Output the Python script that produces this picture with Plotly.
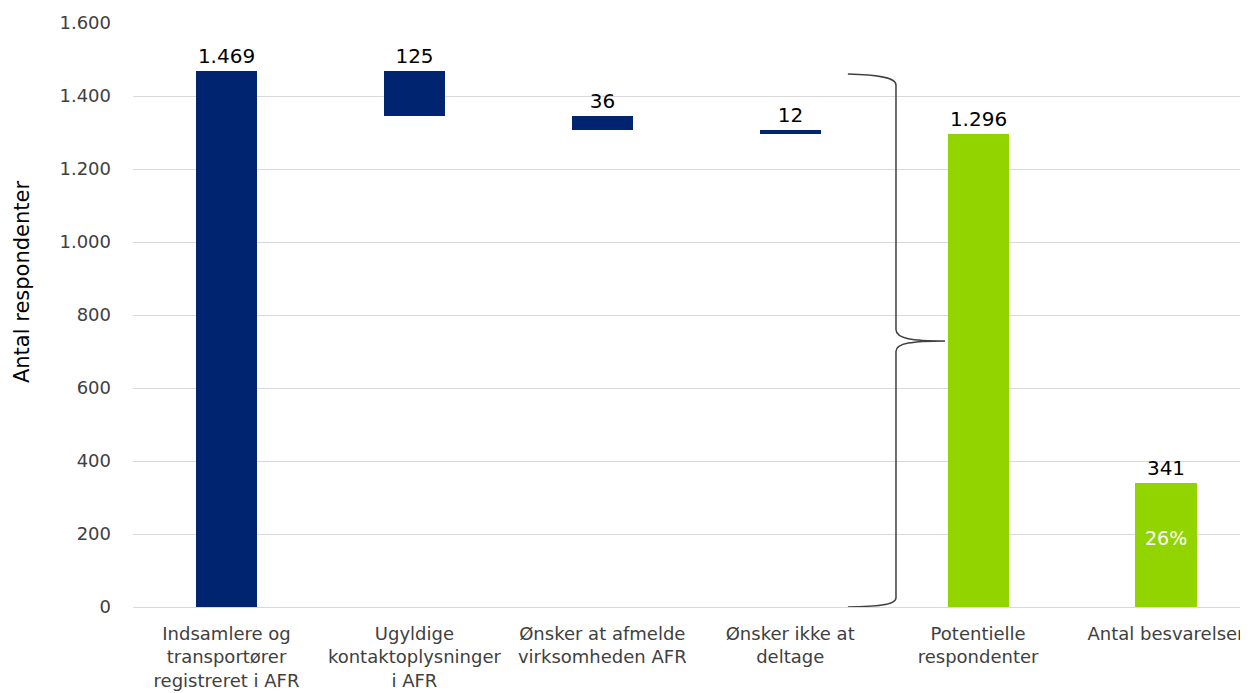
import plotly.graph_objects as go

categories = ["Indsamlere og<br>transportører<br>registreret i AFR",
              "Ugyldige<br>kontaktoplysninger<br>i AFR",
              "Ønsker at afmelde<br>virksomheden AFR",
              "Ønsker ikke at<br>deltage",
              "Potentielle<br>respondenter",
              "Antal besvarelser"]
values = [1469, 125, 36, 12, 1296, 341]
kinds = ["total", "drop", "drop", "drop", "total", "total"]
colors = ["#00246F", "#00246F", "#00246F", "#00246F", "#92D400", "#92D400"]
share_label = "26%"
share_y = 190
y_ticks = [0, 200, 400, 600, 800, 1000, 1200, 1400, 1600]
y_title = "Antal respondenter"

# compute floating bases (waterfall)
bases = []
level = 0
for v, k in zip(values, kinds):
    if k == "total":
        bases.append(0)
        level = v
    else:
        level -= v
        bases.append(level)

xs = list(range(len(categories)))
font_family = "DejaVu Sans, sans-serif"

fig = go.Figure()
fig.add_trace(go.Bar(
    x=xs, y=values, base=bases,
    marker=dict(color=colors, line=dict(width=0)),
    width=0.325,
    text=[f"{v:,}".replace(",", ".") for v in values],
    textposition="outside",
    textfont=dict(size=20, color="#000000", family=font_family),
    cliponaxis=False,
    hoverinfo="skip",
))

fig.add_annotation(x=5, y=share_y, xref="x", yref="y", text=share_label,
                   showarrow=False, font=dict(size=19, color="#FFFFFF", family=font_family))

fig.add_annotation(x=-0.0988, y=0.5565, xref="paper", yref="paper", text=y_title,
                   textangle=-90, showarrow=False, xanchor="center", yanchor="middle",
                   font=dict(size=21, color="#000000", family=font_family))

# curly brace (data coordinates)
brace = ("M 3.307 1460 C 3.45 1458, 3.563 1452, 3.563 1430 "
         "L 3.563 760 C 3.563 735, 3.65 729, 3.824 729 "
         "C 3.65 729, 3.563 723, 3.563 700 "
         "L 3.563 25 C 3.563 5, 3.45 2, 3.307 0")
fig.add_shape(type="path", path=brace, xref="x", yref="y",
              line=dict(color="#404040", width=1.5))

fig.update_layout(
    width=1248, height=693,
    margin=dict(l=125, r=0, t=15, b=94),
    paper_bgcolor="white", plot_bgcolor="white",
    separators=",.",
    showlegend=False,
    font=dict(family=font_family, color="#404040", size=18),
    bargap=0,
)
fig.update_xaxes(
    range=[-0.4976, 5.479], tickvals=xs, ticktext=categories,
    showgrid=False, zeroline=False, showline=False, ticks="",
    tickfont=dict(size=18, color="#404040", family=font_family),
    automargin=False, ticklabelstandoff=14,
)
fig.update_yaxes(
    range=[0, 1600], tickvals=y_ticks,
    ticktext=[f"{t:,}".replace(",", ".") for t in y_ticks],
    showgrid=True, gridcolor="#D9D9D9", gridwidth=1,
    zeroline=True, zerolinecolor="#D9D9D9", zerolinewidth=1,
    showline=False, ticks="",
    tickfont=dict(size=18, color="#404040", family=font_family),
    automargin=False, ticklabelstandoff=21,
)

fig.write_html("out.html")
